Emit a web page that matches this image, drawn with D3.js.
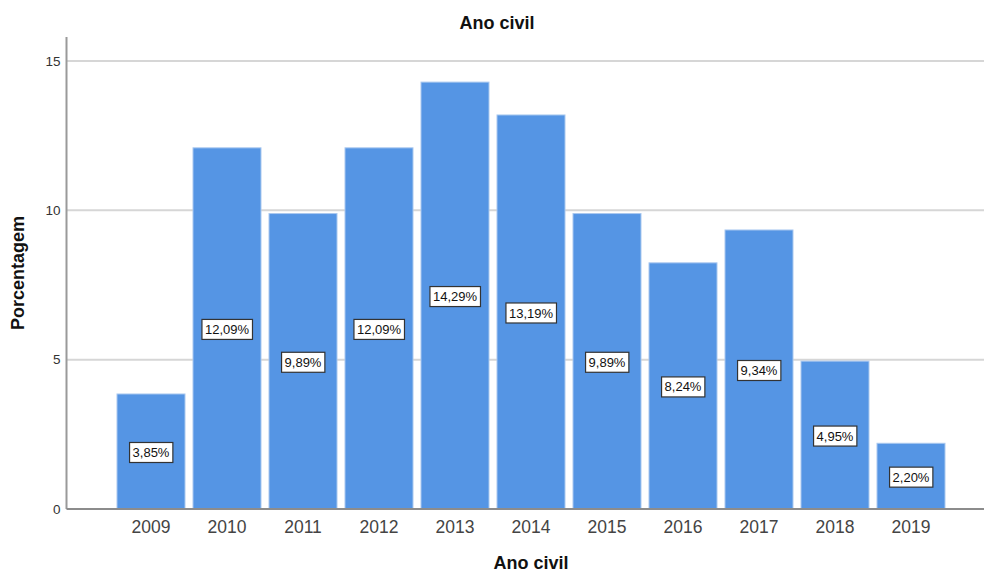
<!DOCTYPE html>
<html>
<head>
<meta charset="utf-8">
<script src="https://cdn.jsdelivr.net/npm/d3@7"></script>
<style>
  body { margin: 0; background: #fff; }
  svg { display: block; font-family: Arial, "Liberation Sans", sans-serif; }
</style>
</head>
<body>
<svg id="chart" width="984" height="574"></svg>
<script>
// data
const years = ['2009', '2010', '2011', '2012', '2013', '2014', '2015', '2016', '2017', '2018', '2019'];
const percents = [3.85, 12.09, 9.89, 12.09, 14.29, 13.19, 9.89, 8.24, 9.34, 4.95, 2.20];
const yTicks = [0, 5, 10, 15];

const svg = d3.select('#chart');
const width = 984;

const x = d3.scaleBand()
  .domain(years)
  .range([113, 949])
  .paddingInner(8 / 76)
  .paddingOuter(4 / 76);

const y = d3.scaleLinear().domain([0, 15.8]).range([509, 37]);

// gridlines
svg.selectAll('.grid')
  .data(yTicks.filter(d => d > 0))
  .enter().append('line')
  .attr('class', 'grid')
  .attr('x1', 67).attr('x2', width)
  .attr('y1', d => y(d)).attr('y2', d => y(d))
  .attr('stroke', '#d6d6d6')
  .attr('stroke-width', 2);

// bars
svg.selectAll('.bar')
  .data(years)
  .enter().append('rect')
  .attr('class', 'bar')
  .attr('x', d => x(d))
  .attr('y', (d, i) => y(percents[i]))
  .attr('width', x.bandwidth())
  .attr('height', (d, i) => y(0) - y(percents[i]))
  .attr('fill', '#5595e4')
  .attr('stroke', '#a9c8ef')
  .attr('stroke-width', 1);

// y axis
const yAxis = svg.append('g')
  .attr('transform', 'translate(66.5,0)')
  .call(d3.axisLeft(y).tickValues(yTicks).tickSize(0).tickPadding(6));
yAxis.select('.domain').remove();
yAxis.selectAll('text')
  .attr('font-size', '13.5px')
  .attr('fill', '#333')
  .attr('font-family', 'Arial, "Liberation Sans", sans-serif');
svg.append('line')
  .attr('x1', 66.5).attr('x2', 66.5)
  .attr('y1', 37).attr('y2', y(0))
  .attr('stroke', '#9a9a9a')
  .attr('stroke-width', 2);

// baseline
svg.append('line')
  .attr('x1', 66.5).attr('x2', width)
  .attr('y1', y(0)).attr('y2', y(0))
  .attr('stroke', '#8c8c8c')
  .attr('stroke-width', 2);

// x axis labels
const xAxis = svg.append('g')
  .attr('transform', `translate(0,${y(0)})`)
  .call(d3.axisBottom(x).tickSize(0).tickPadding(12));
xAxis.select('.domain').remove();
xAxis.selectAll('text')
  .attr('font-size', '17.5px')
  .attr('fill', '#444')
  .attr('font-family', 'Arial, "Liberation Sans", sans-serif');

// value labels in boxes
const labels = svg.selectAll('.lbl')
  .data(years)
  .enter().append('g')
  .attr('class', 'lbl')
  .attr('transform', (d, i) => `translate(${x(d) + x.bandwidth() / 2},${(y(0) + y(percents[i])) / 2 + 1})`);

labels.append('text')
  .attr('text-anchor', 'middle')
  .attr('dy', '0.35em')
  .attr('font-size', '13px')
  .attr('fill', '#111')
  .text((d, i) => percents[i].toFixed(2).replace('.', ',') + '%');

labels.each(function () {
  const g = d3.select(this);
  const bb = g.select('text').node().getBBox();
  g.insert('rect', 'text')
    .attr('x', bb.x - 3)
    .attr('y', -10)
    .attr('width', bb.width + 6)
    .attr('height', 20)
    .attr('fill', '#fff')
    .attr('stroke', '#333')
    .attr('stroke-width', 1.2);
});

// titles
svg.append('text')
  .attr('x', 497).attr('y', 29)
  .attr('text-anchor', 'middle')
  .attr('font-size', '18px')
  .attr('font-weight', 'bold')
  .attr('fill', '#111')
  .text('Ano civil');

svg.append('text')
  .attr('x', 531).attr('y', 569)
  .attr('text-anchor', 'middle')
  .attr('font-size', '18px')
  .attr('font-weight', 'bold')
  .attr('fill', '#111')
  .text('Ano civil');

svg.append('text')
  .attr('transform', 'translate(24,273) rotate(-90)')
  .attr('text-anchor', 'middle')
  .attr('font-size', '18px')
  .attr('font-weight', 'bold')
  .attr('fill', '#111')
  .text('Porcentagem');
</script>
</body>
</html>
